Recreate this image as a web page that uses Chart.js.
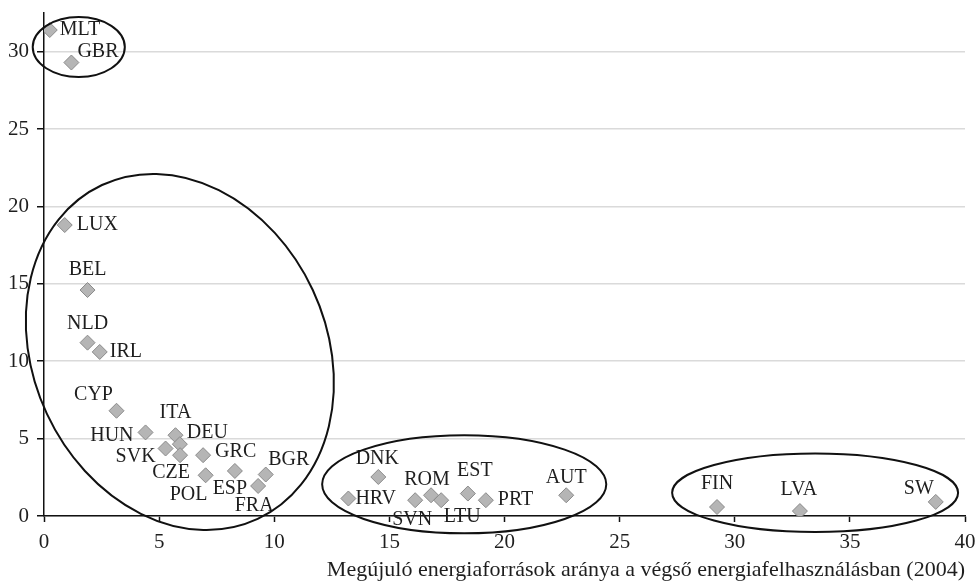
<!DOCTYPE html>
<html lang="hu">
<head>
<meta charset="UTF-8">
<title>Megújuló energiaforrások aránya</title>
<script src="https://cdn.jsdelivr.net/npm/chart.js@4.4.0/dist/chart.umd.min.js"></script>
<style>
    html, body { margin: 0; padding: 0; background: #fff; }
    #wrap { width: 977px; height: 582px; position: relative; }
</style>
</head>
<body>
<div id="wrap"><canvas id="chart"></canvas></div>
<script>
    // Data
    const countries = ['MLT','GBR','LUX','BEL','NLD','IRL','CYP','HUN','ITA','DEU','SVK','CZE','GRC','POL','ESP','BGR','FRA',
                       'DNK','HRV','SVN','ROM','LTU','EST','PRT','AUT','FIN','LVA','SW'];
    const renewShare = [0.25, 1.19, 0.9, 1.89, 1.89, 2.42, 3.15, 4.41, 5.71, 5.9, 5.28, 5.91, 6.91, 7.02, 8.29, 9.63, 9.3,
                        14.52, 13.22, 16.12, 16.81, 17.25, 18.41, 19.19, 22.68, 29.23, 32.83, 38.73];
    const yValues = [31.4, 29.3, 18.8, 14.6, 11.2, 10.6, 6.8, 5.4, 5.22, 4.64, 4.36, 3.93, 3.93, 2.63, 2.91, 2.68, 1.94,
                     2.52, 1.13, 1.02, 1.34, 1.02, 1.45, 1.02, 1.34, 0.58, 0.32, 0.91];
    const xTicks = [0, 5, 10, 15, 20, 25, 30, 35, 40];
    const yTicks = [0, 5, 10, 15, 20, 25, 30];
    const xTitle = 'Megújuló energiaforrások aránya a végső energiafelhasználásban (2004)';

    // label placement: [align, dx, dy] in pixels from the marker
    const labelPlacement = [
        ['left', 10, 0], ['left', 6, -11], ['left', 12, 0], ['center', 0, -20], ['center', 0, -19], ['left', 10, 0],
        ['center', -23, -16], ['right', -12, 3], ['center', 0, -22], ['left', 7, -11], ['right', -10, 8],
        ['center', -9, 18], ['left', 12, -3], ['center', -17, 19], ['center', -5, 18], ['center', 23, -15],
        ['center', -4, 20], ['center', -1, -18], ['left', 7, 0], ['center', -3, 20], ['center', -4, -16],
        ['center', 21, 17], ['center', 7, -23], ['left', 12, 0], ['center', 0, -18], ['center', 0, -23],
        ['center', -1, -21], ['center', -17, -13]
    ];

    // group ellipses, in axis units (rotation in degrees)
    const groupEllipses = [
        { cx: 1.51, cy: 30.3, rx: 2.0, ry: 1.94, rot: 0 },
        { cx: 5.9, cy: 10.6, rx: 6.37, ry: 11.9, rot: -25 },
        { cx: 18.25, cy: 2.05, rx: 6.17, ry: 3.17, rot: 0 },
        { cx: 33.49, cy: 1.5, rx: 6.21, ry: 2.54, rot: 0 }
    ];

    const FONT = "'Liberation Serif', 'DejaVu Serif', serif";
    const TEXT = '#1e1e1e';

    const points = renewShare.map((x, i) => ({ x: x, y: yValues[i] }));

    const extrasPlugin = {
        id: 'extras',
        afterDatasetsDraw(chart) {
            const ctx = chart.ctx;
            const xs = chart.scales.x, ys = chart.scales.y;
            // labels
            ctx.save();
            ctx.font = '20px ' + FONT;
            ctx.fillStyle = TEXT;
            ctx.textBaseline = 'middle';
            chart.getDatasetMeta(0).data.forEach((pt, i) => {
                const p = labelPlacement[i];
                ctx.textAlign = p[0];
                ctx.fillText(countries[i], pt.x + p[1], pt.y + p[2]);
            });
            // ellipses
            ctx.strokeStyle = '#111';
            ctx.lineWidth = 2;
            groupEllipses.forEach(e => {
                const px = xs.getPixelForValue(e.cx);
                const py = ys.getPixelForValue(e.cy);
                const rx = Math.abs(xs.getPixelForValue(e.cx + e.rx) - px);
                const ry = Math.abs(ys.getPixelForValue(e.cy + e.ry) - py);
                ctx.beginPath();
                ctx.ellipse(px, py, rx, ry, e.rot * Math.PI / 180, 0, Math.PI * 2);
                ctx.stroke();
            });
            ctx.restore();
        }
    };

    const ctx = document.getElementById('chart').getContext('2d');
    new Chart(ctx, {
        type: 'scatter',
        data: {
            datasets: [{
                data: points,
                pointStyle: 'rectRot',
                pointRadius: 7.5,
                pointHoverRadius: 7.5,
                backgroundColor: '#b5b5b5',
                borderColor: '#8a8a8a',
                borderWidth: 1
            }]
        },
        options: {
            responsive: true,
            maintainAspectRatio: false,
            animation: false,
            events: [],
            layout: { padding: { top: 13, right: 12, left: 0, bottom: 0 } },
            plugins: { legend: { display: false }, tooltip: { enabled: false } },
            scales: {
                x: {
                    type: 'linear',
                    min: 0, max: 40,
                    afterBuildTicks: s => { s.ticks = xTicks.map(v => ({ value: v })); },
                    afterFit: s => { s.height = 66; s.paddingLeft = 0; s.paddingRight = 0; },
                    grid: { drawOnChartArea: false, tickLength: 6, tickColor: '#111', tickWidth: 1.5 },
                    border: { color: '#111', width: 1.5 },
                    ticks: { font: { family: FONT, size: 21 }, color: TEXT, padding: 8, maxRotation: 0 },
                    title: {
                        display: true, text: xTitle, align: 'end',
                        font: { family: FONT, size: 22 }, color: TEXT,
                        padding: { top: 0, bottom: -1 }
                    }
                },
                y: {
                    type: 'linear',
                    min: 0, max: 32.5,
                    afterBuildTicks: s => { s.ticks = yTicks.map(v => ({ value: v })); },
                    afterFit: s => { s.width = 44; s.paddingTop = 0; s.paddingBottom = 0; },
                    grid: { color: '#dadada', lineWidth: 1.5, tickLength: 7, tickColor: '#111', tickWidth: 1.5 },
                    border: { color: '#111', width: 1.5 },
                    ticks: { font: { family: FONT, size: 21 }, color: TEXT, padding: 8 }
                }
            }
        },
        plugins: [extrasPlugin]
    });
</script>
</body>
</html>
